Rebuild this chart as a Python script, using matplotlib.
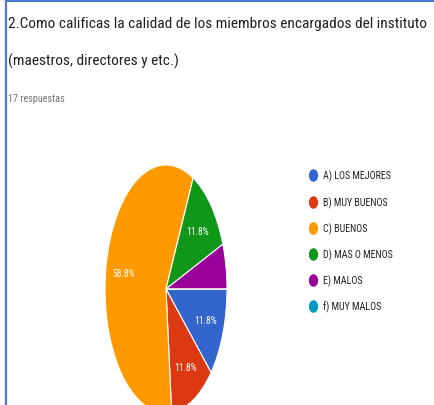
import numpy as np
import matplotlib.pyplot as plt
from matplotlib import font_manager
from matplotlib.font_manager import FontProperties
from matplotlib.lines import Line2D
from matplotlib.path import Path
from matplotlib.markers import MarkerStyle

# Data
labels = ['A) LOS MEJORES', 'B) MUY BUENOS', 'C) BUENOS',
          'D) MAS O MENOS', 'E) MALOS', 'f) MUY MALOS']
counts = [2, 2, 10, 2, 1, 0]
colors = ['#3366cc', '#dc3912', '#ff9900', '#109618', '#990099', '#0099c6']
title_1 = '2.Como calificas la calidad de los miembros encargados del instituto'
title_2 = '(maestros, directores y etc.)'
subtitle = '17 respuestas'


# Pick a narrow font if one is installed (the screenshot text is condensed)
def narrow_font():
    prefs = ['Roboto', 'Noto Sans', 'Liberation Sans', 'Open Sans', 'DejaVu Sans']
    cands = [f for f in font_manager.fontManager.ttflist
             if (f.stretch == 'condensed' or 'Narrow' in f.name or 'Condensed' in f.name)
             and f.style == 'normal' and f.weight in (400, 'normal', 'regular')]
    for p in prefs:
        for f in cands:
            if f.name.startswith(p):
                return FontProperties(fname=f.fname)
    if cands:
        return FontProperties(fname=cands[0].fname)
    return FontProperties(family='Roboto')


FP = narrow_font()

W, H = 435, 406
fig = plt.figure(figsize=(W / 100, H / 100), dpi=100)
fig.patch.set_facecolor('white')
renderer = fig.canvas.get_renderer()


def px(x, y):
    # figure pixel (from top-left) -> figure fraction
    return x / W, 1 - y / H


def fit(txt, width):
    w = txt.get_window_extent(renderer).width
    txt.set_fontsize(txt.get_fontsize() * width / w)
    return txt.get_fontsize()


# Border (left and top blue lines)
fig.add_artist(Line2D([6.5 / W, 6.5 / W], [0, 1 - 1.5 / H], color='#4a7bd0', lw=1.6))
fig.add_artist(Line2D([6.5 / W, 1], [1 - 1.5 / H, 1 - 1.5 / H], color='#4a7bd0', lw=1.6))

# Title
t1 = fig.text(*px(8, 28), title_1, ha='left', va='baseline', fontsize=14,
              color='#202124', fontproperties=FP)
fs = fit(t1, 420)
fig.text(*px(8, 66), title_2, ha='left', va='baseline', fontsize=fs,
         color='#202124', fontproperties=FP)
t3 = fig.text(*px(8, 102), subtitle, ha='left', va='baseline', fontsize=8,
              color='#757575', fontproperties=FP)
fit(t3, 57)

# Pie (horizontally squeezed ellipse)
cx, cy, rx, ry = 166, 290, 61, 124
x0, y0 = px(cx - rx, cy + ry)
ax = fig.add_axes([x0, y0, 2 * rx / W, 2 * ry / H])

probe = fig.text(0, 0, '11.8%', fontsize=8, fontproperties=FP)
pct_fs = fit(probe, 23)
probe.remove()


def pct_label(p):
    return '%.1f%%' % p if p >= 10 else ''


wedges, texts, autotexts = ax.pie(counts, colors=colors, startangle=0, counterclock=False,
                                  autopct=pct_label, pctdistance=0.7,
                                  wedgeprops=dict(edgecolor='white', linewidth=0.8))
for t in autotexts:
    t.set_fontproperties(FP)
    t.set_fontsize(pct_fs)
    t.set_color('white')
ax.set_aspect('auto')
ax.set_xlim(-1, 1)
ax.set_ylim(-1, 1)
ax.axis('off')

# Legend with squeezed circular markers
theta = np.linspace(0, 2 * np.pi, 50)
ell = Path(np.column_stack([0.7 * np.cos(theta), np.sin(theta)]), closed=True)
handles = [Line2D([], [], linestyle='none', marker=MarkerStyle(ell), markersize=8,
                  markerfacecolor=c, markeredgecolor=c) for c in colors]
probe = fig.text(0, 0, labels[0], fontsize=8, fontproperties=FP)
leg_fs = fit(probe, 68)
probe.remove()
leg_prop = FontProperties(fname=FP.get_file(), size=leg_fs) if FP.get_file() else \
    FontProperties(family=FP.get_family(), size=leg_fs)
fig.legend(handles, labels, loc='upper left', bbox_to_anchor=px(304, 166), frameon=False,
           prop=leg_prop, labelspacing=1.47, handlelength=0.8, handletextpad=0.6,
           borderpad=0, labelcolor='#222222')

fig.savefig('out.png', dpi=100)
